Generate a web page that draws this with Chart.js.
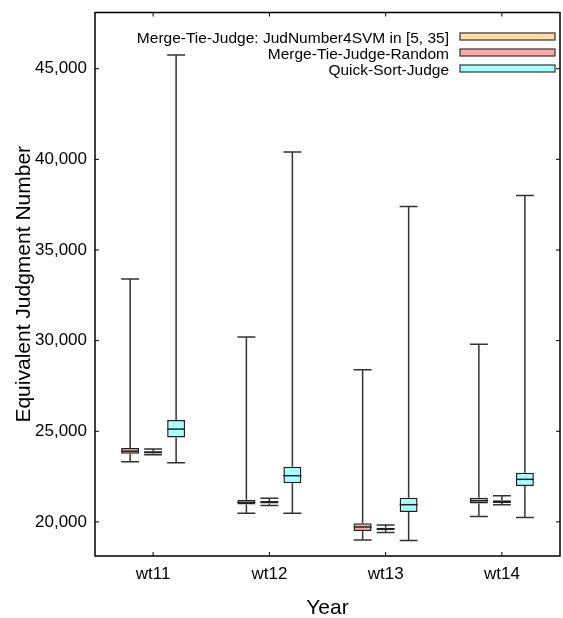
<!DOCTYPE html>
<html>
<head>
<meta charset="utf-8">
<script src="https://cdn.jsdelivr.net/npm/chart.js@4"></script>
<style>
html,body{margin:0;padding:0;background:#fff;}
#wrap{width:563px;height:618px;}
</style>
</head>
<body>
<div id="wrap"><canvas id="c" width="563" height="618"></canvas></div>
<script>
// ---- data ----
const categories = ['wt11', 'wt12', 'wt13', 'wt14'];
const yTickValues = [20000, 25000, 30000, 35000, 40000, 45000];

const seriesNames = ['Merge-Tie-Judge: JudNumber4SVM in [5, 35]', 'Merge-Tie-Judge-Random', 'Quick-Sort-Judge'];

// Merge-Tie-Judge-Random
const randomMin = [23320, 20480, 19000, 20300];
const randomQ1  = [23760, 20960, 19500, 21020];
const randomMed = [23900, 21080, 19720, 21170];
const randomQ3  = [24080, 21220, 19920, 21330];
const randomMax = [33400, 30200, 28400, 29800];

// Merge-Tie-Judge: JudNumber4SVM in [5, 35]
const svmMin = [23700, 20900, 19420, 20950];
const svmQ1  = [23770, 21020, 19560, 21040];
const svmMed = [23840, 21100, 19620, 21110];
const svmQ3  = [23900, 21160, 19680, 21190];
const svmMax = [24020, 21300, 19830, 21450];

// Quick-Sort-Judge
const quickMin = [23270, 20480, 18970, 20250];
const quickQ1  = [24660, 22130, 20550, 21980];
const quickMed = [25120, 22550, 20950, 22350];
const quickQ3  = [25620, 23050, 21340, 22715];
const quickMax = [45750, 40400, 37400, 38000];

const colOrange = '#FFDBA6';
const colPink = '#F9A9A9';
const colCyan = '#A8FFFF';

// per-dataset whisker stats (same order as datasets below)
const boxStats = [
  {min: randomMin, q1: randomQ1, med: randomMed, q3: randomQ3, max: randomMax},
  {min: svmMin, q1: svmQ1, med: svmMed, q3: svmQ3, max: svmMax},
  {min: quickMin, q1: quickQ1, med: quickMed, q3: quickQ3, max: quickMax}
];

function mkBox(label, q1, q3, color) {
  return {
    label: label,
    data: q1.map((v, i) => [v, q3[i]]),
    backgroundColor: color,
    borderColor: '#222',
    borderWidth: 1.5,
    borderSkipped: false,
    barPercentage: 0.78,
    categoryPercentage: 0.5935
  };
}

const datasets = [
  mkBox(seriesNames[1], randomQ1, randomQ3, colPink),
  mkBox(seriesNames[0], svmQ1, svmQ3, colOrange),
  mkBox(seriesNames[2], quickQ1, quickQ3, colCyan)
];
const legendItems = [
  {name: seriesNames[0], color: colOrange},
  {name: seriesNames[1], color: colPink},
  {name: seriesNames[2], color: colCyan}
];

const FONT = "'Liberation Sans', Arial, Helvetica, sans-serif";

const boxPlugin = {
  id: 'boxWhiskers',
  afterDatasetsDraw(chart) {
    const ctx = chart.ctx;
    const y = chart.scales.y;
    boxStats.forEach((st, di) => {
      const meta = chart.getDatasetMeta(di);
      meta.data.forEach((bar, i) => {
        const p = bar.getProps(['x', 'width'], true);
        const x = p.x, w = p.width;
        const pMin = y.getPixelForValue(st.min[i]);
        const pMax = y.getPixelForValue(st.max[i]);
        const pQ1 = y.getPixelForValue(st.q1[i]);
        const pQ3 = y.getPixelForValue(st.q3[i]);
        const pMed = y.getPixelForValue(st.med[i]);
        ctx.save();
        ctx.strokeStyle = '#333';
        ctx.lineWidth = 1.5;
        ctx.beginPath();
        ctx.moveTo(x, pQ3); ctx.lineTo(x, pMax);
        ctx.moveTo(x, pQ1); ctx.lineTo(x, pMin);
        ctx.moveTo(x - w / 2, pMax); ctx.lineTo(x + w / 2, pMax);
        ctx.moveTo(x - w / 2, pMin); ctx.lineTo(x + w / 2, pMin);
        ctx.stroke();
        ctx.strokeStyle = '#222';
        ctx.beginPath();
        ctx.moveTo(x - w / 2, pMed); ctx.lineTo(x + w / 2, pMed);
        ctx.stroke();
        ctx.restore();
      });
    });
  },
  afterDraw(chart) {
    const ctx = chart.ctx;
    const a = chart.chartArea;
    const xs = chart.scales.x, ys = chart.scales.y;
    ctx.save();
    ctx.strokeStyle = '#000';
    ctx.lineWidth = 1.5;
    ctx.strokeRect(a.left, a.top, a.right - a.left, a.bottom - a.top);
    ctx.lineWidth = 1;
    ctx.beginPath();
    categories.forEach((c, i) => {
      const px = xs.getPixelForValue(i);
      ctx.moveTo(px, a.bottom); ctx.lineTo(px, a.bottom - 4);
      ctx.moveTo(px, a.top); ctx.lineTo(px, a.top + 4);
    });
    yTickValues.forEach(v => {
      const py = ys.getPixelForValue(v);
      ctx.moveTo(a.left, py); ctx.lineTo(a.left + 4, py);
      ctx.moveTo(a.right, py); ctx.lineTo(a.right - 4, py);
    });
    ctx.stroke();
    // legend
    ctx.font = '15.5px ' + FONT;
    ctx.textAlign = 'right';
    ctx.textBaseline = 'middle';
    const rowY = [36, 52, 68];
    legendItems.forEach((it, k) => {
      const cy = rowY[k];
      ctx.fillStyle = '#000';
      ctx.fillText(it.name, 449, cy + 3);
      ctx.fillStyle = it.color;
      ctx.fillRect(460, cy - 3, 95, 7);
      ctx.strokeStyle = '#333';
      ctx.lineWidth = 1.2;
      ctx.strokeRect(460, cy - 3, 95, 7);
    });
    ctx.restore();
  }
};

new Chart(document.getElementById('c'), {
  type: 'bar',
  data: {labels: categories, datasets: datasets},
  options: {
    responsive: false,
    animation: false,
    devicePixelRatio: 1,
    layout: {padding: {top: 12.5, right: 3, left: 0, bottom: 0}},
    plugins: {legend: {display: false}, tooltip: {enabled: false}},
    scales: {
      x: {
        type: 'category',
        offset: true,
        grid: {display: false, drawTicks: false},
        border: {display: false},
        ticks: {font: {size: 17, family: FONT}, color: '#000', padding: 8},
        title: {display: true, text: 'Year', font: {size: 21, family: FONT}, color: '#000', padding: {top: 0, bottom: -3}},
        afterFit(s) { s.height = 62; s.paddingLeft = 0; s.paddingRight = 0; }
      },
      y: {
        min: 18120,
        max: 48100,
        grid: {display: false, drawTicks: false},
        border: {display: false},
        afterBuildTicks(s) { s.ticks = yTickValues.map(v => ({value: v})); },
        ticks: {
          font: {size: 17, family: FONT}, color: '#000', padding: 8,
          callback: v => v.toLocaleString('en-US')
        },
        title: {display: true, text: 'Equivalent Judgment Number', font: {size: 21, family: FONT}, color: '#000', padding: {top: 12, bottom: 0}},
        afterFit(s) { s.width = 95; s.paddingTop = 0; s.paddingBottom = 0; }
      }
    }
  },
  plugins: [boxPlugin]
});
</script>
</body>
</html>
